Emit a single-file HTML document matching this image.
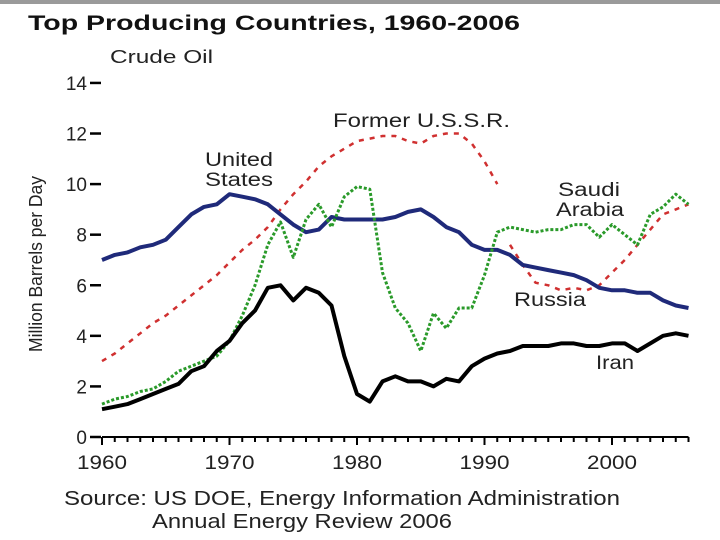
<!DOCTYPE html>
<html><head><meta charset="utf-8"><style>
body{margin:0;background:#fff;}
svg{display:block;font-family:"Liberation Sans",Arial,sans-serif;}
</style></head><body>
<svg id="chart" width="720" height="540">
<rect x="0" y="0" width="720" height="4" fill="#9a9a9a"/>
<text x="28" y="30" font-size="21" font-weight="bold" fill="#111" textLength="492" lengthAdjust="spacingAndGlyphs">Top Producing Countries, 1960-2006</text>
<text x="110" y="63" font-size="18" fill="#222" textLength="103" lengthAdjust="spacingAndGlyphs">Crude Oil</text>
<text transform="translate(42,264) rotate(-90)" text-anchor="middle" font-size="18" fill="#222" textLength="176" lengthAdjust="spacingAndGlyphs">Million Barrels per Day</text>
<g id="axes"></g>
<g id="series"></g>
<text x="333" y="127" font-size="19" fill="#222" textLength="177" lengthAdjust="spacingAndGlyphs">Former U.S.S.R.</text>
<text x="205" y="166" font-size="19" fill="#222" textLength="68" lengthAdjust="spacingAndGlyphs">United</text>
<text x="205" y="186" font-size="19" fill="#222" textLength="68" lengthAdjust="spacingAndGlyphs">States</text>
<text x="558" y="196" font-size="19" fill="#222" textLength="62" lengthAdjust="spacingAndGlyphs">Saudi</text>
<text x="556" y="216" font-size="19" fill="#222" textLength="68" lengthAdjust="spacingAndGlyphs">Arabia</text>
<text x="514" y="306" font-size="19" fill="#222" textLength="72" lengthAdjust="spacingAndGlyphs">Russia</text>
<text x="596" y="369" font-size="19" fill="#222" textLength="38" lengthAdjust="spacingAndGlyphs">Iran</text>
<text x="64" y="505" font-size="20" fill="#222" textLength="556" lengthAdjust="spacingAndGlyphs">Source: US DOE, Energy Information Administration</text>
<text x="152" y="528" font-size="20" fill="#222" textLength="300" lengthAdjust="spacingAndGlyphs">Annual Energy Review 2006</text>
</svg>
<script>
const yTicks=[0,2,4,6,8,10,12,14];
const xTicks=[1960,1970,1980,1990,2000];
const usYears=[1960,1961,1962,1963,1964,1965,1966,1967,1968,1969,1970,1971,1972,1973,1974,1975,1976,1977,1978,1979,1980,1981,1982,1983,1984,1985,1986,1987,1988,1989,1990,1991,1992,1993,1994,1995,1996,1997,1998,1999,2000,2001,2002,2003,2004,2005,2006];
const usValues=[7.0,7.2,7.3,7.5,7.6,7.8,8.3,8.8,9.1,9.2,9.6,9.5,9.4,9.2,8.8,8.4,8.1,8.2,8.7,8.6,8.6,8.6,8.6,8.7,8.9,9.0,8.7,8.3,8.1,7.6,7.4,7.4,7.2,6.8,6.7,6.6,6.5,6.4,6.2,5.9,5.8,5.8,5.7,5.7,5.4,5.2,5.1];
const saudiValues=[1.3,1.5,1.6,1.8,1.9,2.2,2.6,2.8,3.0,3.2,3.8,4.8,6.0,7.6,8.5,7.1,8.6,9.2,8.3,9.5,9.9,9.8,6.5,5.1,4.5,3.4,4.9,4.3,5.1,5.1,6.4,8.1,8.3,8.2,8.1,8.2,8.2,8.4,8.4,7.9,8.4,8.0,7.6,8.8,9.1,9.6,9.2];
const iranValues=[1.1,1.2,1.3,1.5,1.7,1.9,2.1,2.6,2.8,3.4,3.8,4.5,5.0,5.9,6.0,5.4,5.9,5.7,5.2,3.2,1.7,1.4,2.2,2.4,2.2,2.2,2.0,2.3,2.2,2.8,3.1,3.3,3.4,3.6,3.6,3.6,3.7,3.7,3.6,3.6,3.7,3.7,3.4,3.7,4.0,4.1,4.0];
const ussrYears=[1960,1961,1962,1963,1964,1965,1966,1967,1968,1969,1970,1971,1972,1973,1974,1975,1976,1977,1978,1979,1980,1981,1982,1983,1984,1985,1986,1987,1988,1989,1990,1991];
const ussrValues=[3.0,3.3,3.7,4.1,4.5,4.8,5.2,5.6,6.0,6.4,6.9,7.4,7.8,8.3,9.0,9.6,10.1,10.7,11.1,11.4,11.7,11.8,11.9,11.9,11.7,11.6,11.9,12.0,12.0,11.6,10.9,10.0];
const russiaYears=[1992,1993,1994,1995,1996,1997,1998,1999,2000,2001,2002,2003,2004,2005,2006];
const russiaValues=[7.6,6.8,6.1,6.0,5.8,5.9,5.8,6.0,6.5,7.0,7.6,8.2,8.8,9.0,9.2];

const NS="http://www.w3.org/2000/svg";
function xs(y){return 102+(y-1960)*12.75;}
function ys(v){return 437-v*25.29;}
const axes=document.getElementById('axes');
const series=document.getElementById('series');
function mk(tag,attrs,parent){const e=document.createElementNS(NS,tag);for(const k in attrs)e.setAttribute(k,attrs[k]);parent.appendChild(e);return e;}

let ax=mk('line',{x1:xs(1960),x2:xs(2006),y1:ys(0),y2:ys(0),stroke:'#000','stroke-width':2},axes);


for(let y=1960;y<=2006;y++){
  const t=mk('line',{x1:xs(y),x2:xs(y),y1:ys(0),y2:ys(0)+(y%10===0?8:5),stroke:'#000','stroke-width':2},axes);
  
  
}
xTicks.forEach(v=>{
  const t=mk('text',{x:xs(v),y:469,'text-anchor':'middle','font-size':19,fill:'#222',textLength:50,lengthAdjust:'spacingAndGlyphs'},axes);t.textContent=v;
  
  
});
yTicks.forEach(v=>{
  const l=mk('line',{x1:90,x2:101,y1:ys(v),y2:ys(v),stroke:'#000','stroke-width':2.5},axes);
  
  
  const t=mk('text',{x:87,y:ys(v)+7,'text-anchor':'end','font-size':19,fill:'#222'},axes);t.textContent=v;
  
  
});
function line(years,vals,stroke,w,dash,name){
  const d=years.map((y,i)=>(i?'L':'M')+xs(y).toFixed(1)+','+ys(vals[i]).toFixed(1)).join(' ');
  const p=mk('path',{d:d,fill:'none',stroke:stroke,'stroke-width':w,'stroke-linejoin':'round'},series);
  if(dash)p.setAttribute('stroke-dasharray',dash);
  
  
}
line(ussrYears,ussrValues,'#d03030',2.5,'5,6','ussr-line');
line(russiaYears,russiaValues,'#d03030',2.5,'5,6','russia-line');
line(usYears,usValues,'#1f2a7a',4,null,'us-line');
line(usYears,saudiValues,'#2a9a2a',3,'3,2','saudi-line');
line(usYears,iranValues,'#000',4,null,'iran-line');
</script>
</body></html>
